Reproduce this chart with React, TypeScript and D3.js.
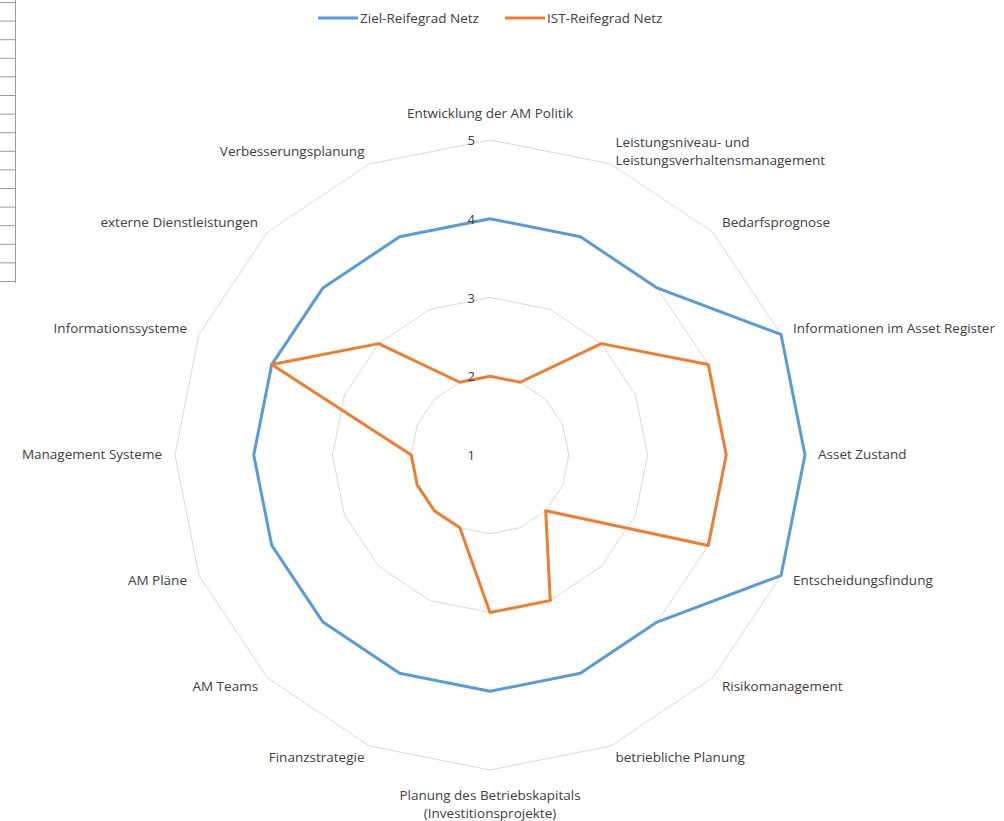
import * as d3 from "d3";
import React from "react";

const categories: string[][] = [
    ["Entwicklung der AM Politik"],
    ["Leistungsniveau- und", "Leistungsverhaltensmanagement"],
    ["Bedarfsprognose"],
    ["Informationen im Asset Register"],
    ["Asset Zustand"],
    ["Entscheidungsfindung"],
    ["Risikomanagement"],
    ["betriebliche Planung"],
    ["Planung des Betriebskapitals", "(Investitionsprojekte)"],
    ["Finanzstrategie"],
    ["AM Teams"],
    ["AM Pläne"],
    ["Management Systeme"],
    ["Informationssysteme"],
    ["externe Dienstleistungen"],
    ["Verbesserungsplanung"],
];

const zielValues = [4, 4, 4, 5, 5, 5, 4, 4, 4, 4, 4, 4, 4, 4, 4, 4];
const istValues = [2, 2, 3, 4, 4, 4, 2, 3, 3, 2, 2, 2, 2, 4, 3, 2];

const seriesNames = ["Ziel-Reifegrad Netz", "IST-Reifegrad Netz"];
const seriesColours = ["#5b9bd5", "#ed7d31"];
const tickValues = [1, 2, 3, 4, 5];
const gridLevels = [2, 3, 4, 5];
const tableRows = d3.range(16);

const width = 1004;
const height = 821;
const cx = 490;
const cy = 455;
const radius = 315;
const font = "'Open Sans', sans-serif";

export default function App() {
    const r = d3.scaleLinear().domain([1, 5]).range([0, radius]);
    const n = categories.length;
    const angle = (i: number) => (i / n) * 2 * Math.PI;

    const radial = d3.lineRadial<number>()
        .angle((_, i) => angle(i))
        .radius(d => r(d))
        .curve(d3.curveLinearClosed);

    const grid = (level: number) => radial(d3.range(n).map(() => level)) || "";

    return (
        <svg width={width} height={height} style={{ position: "absolute", left: 0, top: 0, background: "#fff" }}>
            {/* leftover cell borders at the edge */}
            <g stroke="#9a9a9a" strokeWidth={1}>
                <line x1={15.5} x2={15.5} y1={0} y2={283} />
                {tableRows.map(i => (
                    <line key={i} x1={0} x2={15.5} y1={2.5 + i * 18.6} y2={2.5 + i * 18.6} />
                ))}
            </g>

            {/* legend */}
            <g fontFamily={font} fontSize={13.5} fill="#404040">
                {seriesNames.map((s, i) => {
                    const x0 = i === 0 ? 318 : 505;
                    return (
                        <g key={s}>
                            <line x1={x0} x2={x0 + 40} y1={18} y2={18} stroke={seriesColours[i]} strokeWidth={3} />
                            <text x={x0 + 42} y={23}>{s}</text>
                        </g>
                    );
                })}
            </g>

            <g transform={`translate(${cx},${cy})`}>
                {gridLevels.map(l => (
                    <path key={l} d={grid(l)} fill="none" stroke="#d9d9d9" strokeWidth={1} />
                ))}

                {[zielValues, istValues].map((vals, si) => (
                    <path key={si} d={radial(vals) || ""} fill="none" stroke={seriesColours[si]}
                        strokeWidth={3} strokeLinejoin="round" />
                ))}

                <g fontFamily={font} fontSize={13} fill="#404040" textAnchor="end">
                    {tickValues.map(t => (
                        <text key={t} x={-15} y={-r(t) + 5}>{t}</text>
                    ))}
                </g>

                <g fontFamily={font} fontSize={13.5} fill="#404040">
                    {categories.map((lines, i) => {
                        const a = angle(i);
                        const s = Math.sin(a);
                        const c = Math.cos(a);
                        const d = radius + 13;
                        let x = d * s;
                        let y = -d * c;
                        let anchor = "middle";
                        if (s > 0.1) anchor = "start";
                        else if (s < -0.1) anchor = "end";
                        if (i === 0) y -= 13;
                        if (i === n / 2) y += 22;
                        const lh = 18;
                        const top = y - ((lines.length - 1) * lh) / 2;
                        return (
                            <text key={i} textAnchor={anchor}>
                                {lines.map((t, j) => (
                                    <tspan key={j} x={x} y={top + j * lh + 4}>{t}</tspan>
                                ))}
                            </text>
                        );
                    })}
                </g>
            </g>
        </svg>
    );
}
